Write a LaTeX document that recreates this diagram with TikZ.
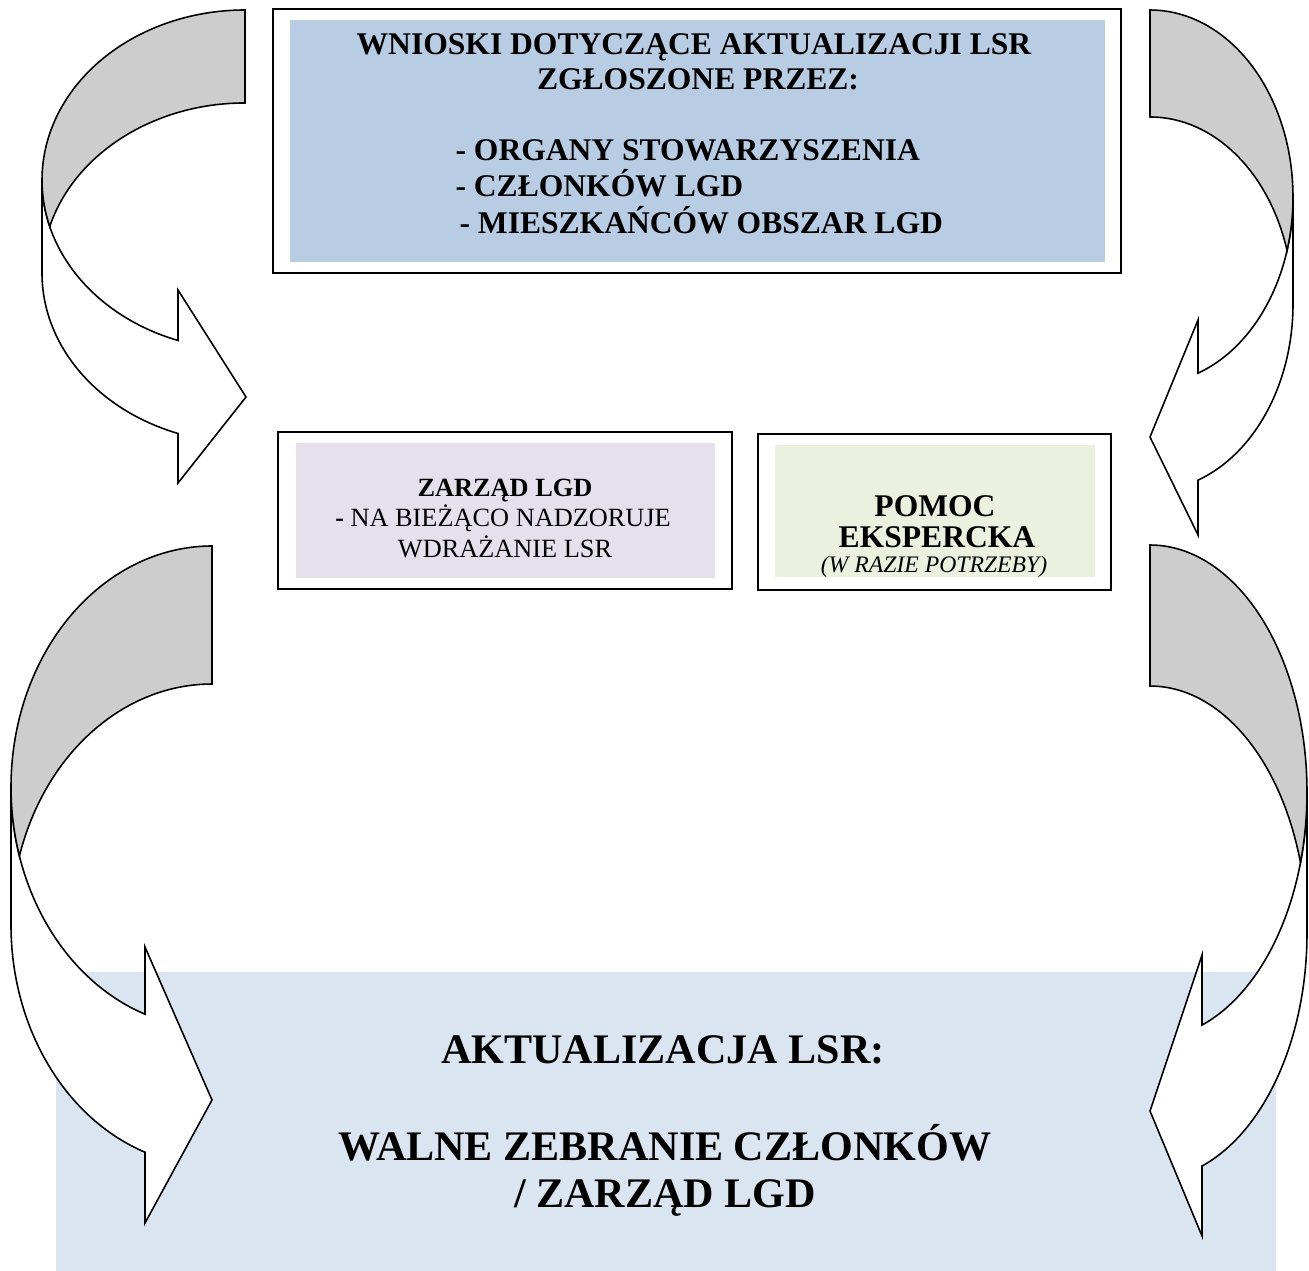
\documentclass[tikz,border=0pt]{standalone}
\usepackage{fontspec}
\setmainfont{Liberation Serif}
\definecolor{topfill}{HTML}{B8CCE4}
\definecolor{zarzfill}{HTML}{E5E0EC}
\definecolor{pomocfill}{HTML}{EBF1DE}
\definecolor{botfill}{HTML}{DBE5F1}
\definecolor{bandgrey}{HTML}{CDCDCD}
\tikzset{
  frame/.style={draw=black, line width=0.75pt},
  band/.style={fill=bandgrey, draw=black, line width=0.6pt, line join=miter},
  body/.style={fill=white, draw=black, line width=0.6pt, line join=miter},
  txt/.style={inner sep=0pt, anchor=base},
  txtw/.style={inner sep=0pt, anchor=base west},
  bigfont/.style={font=\bfseries\fontsize{12}{14}\selectfont},
  midfont/.style={font=\fontsize{10}{12}\selectfont},
  hugefont/.style={font=\bfseries\fontsize{16}{19}\selectfont},
}
\begin{document}
\begin{tikzpicture}[x=0.38pt, y=0.38pt, yscale=-1]
\useasboundingbox (0,0) rectangle (1309,1271);
% bottom blue area
\fill[botfill] (56,972) rectangle (1276,1271);

% ---------- top-left arrow ----------
\path[body] (42,180) -- (42,273)
  arc[start angle=180, end angle=109.27, x radius=203, y radius=170]
  -- (178,483) -- (246,397) -- (178,290) -- (178,340.5)
  arc[start angle=109.27, end angle=180, x radius=203, y radius=170] -- cycle;
\path[band] (245,10)
  arc[start angle=270, end angle=164.13, x radius=203, y radius=170]
  arc[start angle=195.87, end angle=270, x radius=203, y radius=170] -- cycle;

% ---------- bottom-left arrow ----------
\path[body] (11,787) -- (11,925)
  arc[start angle=180, end angle=109.47, x radius=201, y radius=241]
  -- (145,1223) -- (212,1100) -- (145,947) -- (145,1014.2)
  arc[start angle=109.47, end angle=180, x radius=201, y radius=241] -- cycle;
\path[band] (212,546)
  arc[start angle=270, end angle=163.36, x radius=201, y radius=241]
  arc[start angle=196.64, end angle=270, x radius=201, y radius=241] -- cycle;

% ---------- top-right arrow ----------
\path[body] (1293,197) -- (1293,304)
  arc[start angle=0, end angle=70.39, x radius=143, y radius=187]
  -- (1198,535) -- (1150,437) -- (1198,320) -- (1198,373.2)
  arc[start angle=70.39, end angle=0, x radius=143, y radius=187] -- cycle;
\path[band] (1150,10)
  arc[start angle=-90, end angle=16.62, x radius=143, y radius=187]
  arc[start angle=-16.62, end angle=-90, x radius=143, y radius=187] -- cycle;

% ---------- bottom-right arrow ----------
\path[body] (1307,792) -- (1307,933)
  arc[start angle=0, end angle=70.66, x radius=157, y radius=247]
  -- (1202,1236) -- (1150,1111) -- (1202,955) -- (1202,1025.1)
  arc[start angle=70.66, end angle=0, x radius=157, y radius=247] -- cycle;
\path[band] (1150,545)
  arc[start angle=-90, end angle=16.59, x radius=157, y radius=247]
  arc[start angle=-16.59, end angle=-90, x radius=157, y radius=247] -- cycle;

% ---------- top box ----------
\draw[frame] (273,9) rectangle (1121,273);
\fill[topfill] (290,20) rectangle (1105,262);
\node[txt, bigfont] (l1) at (694,55) {WNIOSKI DOTYCZĄCE AKTUALIZACJI LSR};
\node[txt, bigfont] (l2) at (698,90) {ZGŁOSZONE PRZEZ:};
\node[txtw, bigfont] (l3) at (455,161) {- ORGANY STOWARZYSZENIA};
\node[txtw, bigfont] (l4) at (455,197) {- CZŁONKÓW LGD};
\node[txtw, bigfont] (l5) at (459,234) {- MIESZKAŃCÓW OBSZAR LGD};

% ---------- ZARZAD box ----------
\draw[frame] (278,432) rectangle (732,589);
\fill[zarzfill] (296,443) rectangle (715,578);
\node[txt, font=\bfseries\fontsize{10}{12}\selectfont] (z1) at (505,497) {ZARZĄD LGD};
\node[txt, midfont] (z2) at (503,527) {\textbf{-} NA BIEŻĄCO NADZORUJE};
\node[txt, midfont] (z3) at (505,557) {WDRAŻANIE LSR};

% ---------- POMOC box ----------
\draw[frame] (758,434) rectangle (1111,590);
\fill[pomocfill] (775,445) rectangle (1095,577);
\node[txt, bigfont] (p1) at (935,517) {POMOC};
\node[txt, bigfont] (p2) at (937,548) {EKSPERCKA};
\begin{scope}
\clip (775,445) rectangle (1095,577);
\node[txt, font=\itshape\fontsize{9}{11}\selectfont] (p3) at (934,573) {(W RAZIE POTRZEBY)};
\end{scope}

% ---------- bottom text ----------
\node[txt, hugefont] (b1) at (663,1063) {AKTUALIZACJA LSR:};
\node[txt, hugefont] (b2) at (665,1160) {WALNE ZEBRANIE CZŁONKÓW};
\node[txt, hugefont] (b3) at (665,1207) {/ ZARZĄD LGD};
\end{tikzpicture}
\end{document}
